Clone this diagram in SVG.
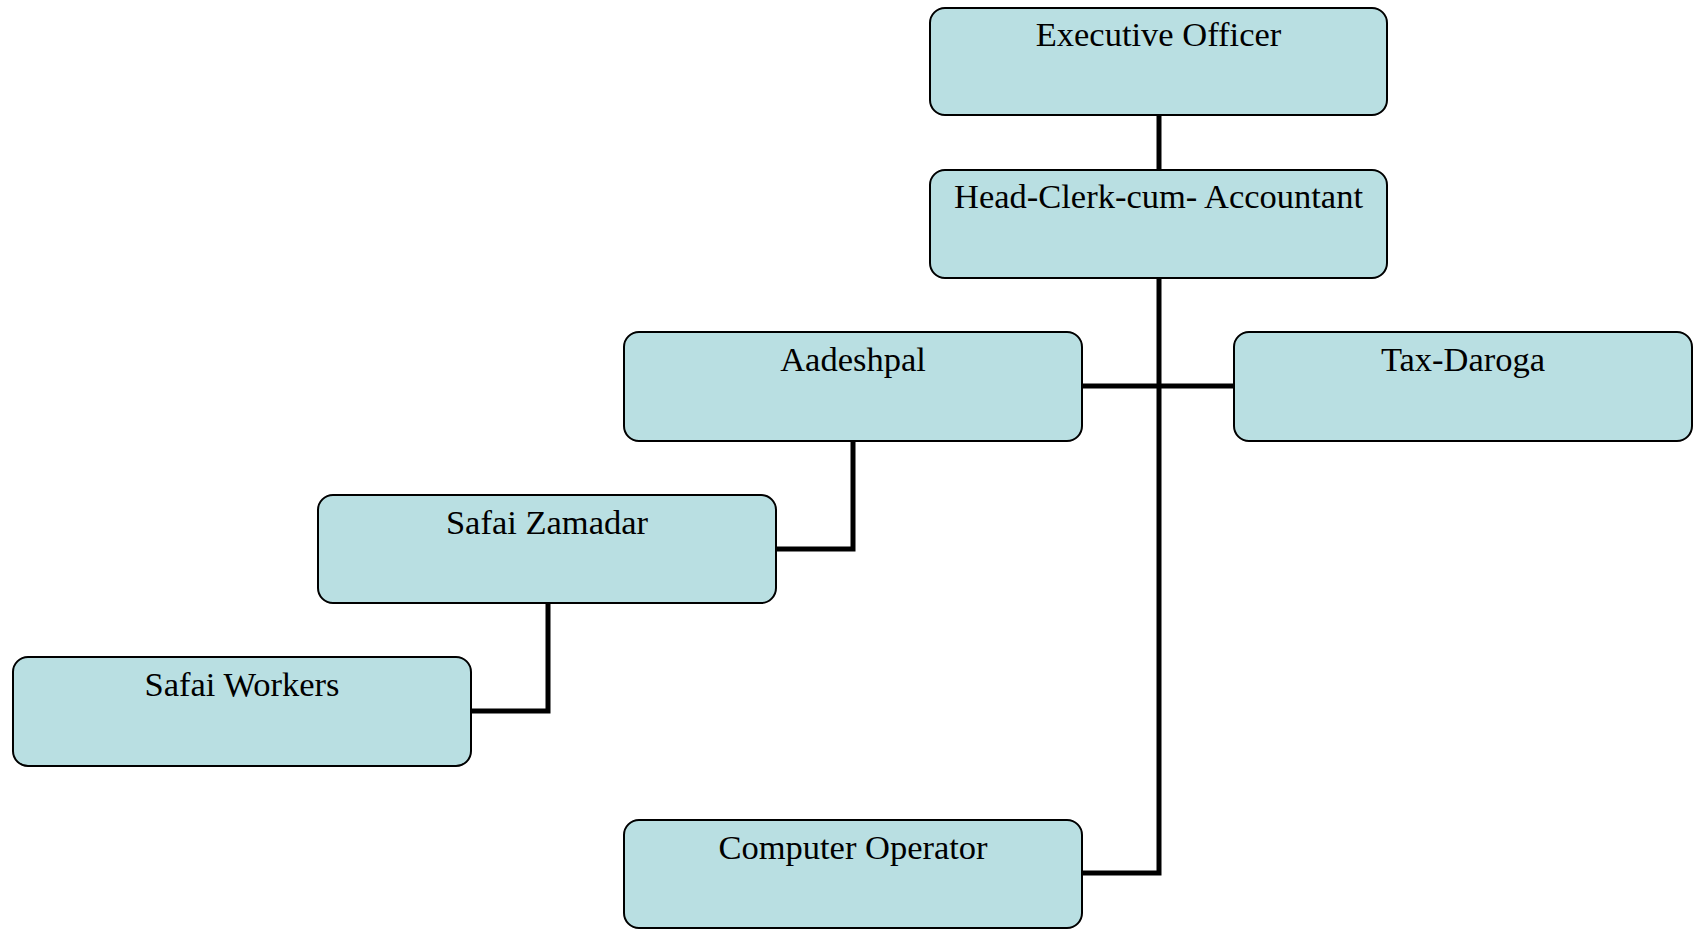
<svg xmlns="http://www.w3.org/2000/svg" width="1695" height="930" viewBox="0 0 1695 930">
  <style>
    .box { fill: #b9dfe2; stroke: #000; stroke-width: 2; }
    .lbl { font-family: "Liberation Serif", "Times New Roman", serif; font-size: 34.5px; fill: #000; text-anchor: middle; }
    .link { fill: none; stroke: #000; stroke-width: 5; stroke-linejoin: miter; }
  </style>
  <rect width="1695" height="930" fill="#fff"/>

  <!-- reporting lines -->
  <g id="connectors">
    <path class="link" d="M1159,115 V170"/>
    <path class="link" d="M1159,278 V873 H1082"/>
    <path class="link" d="M1082,386 H1234"/>
    <path class="link" d="M853,441 V549 H776"/>
    <path class="link" d="M548,603 V711 H471"/>
  </g>

  <g id="executive-officer">
    <rect class="box" x="930" y="8" width="457" height="107" rx="15"/>
    <text class="lbl" x="1158.5" y="46">Executive Officer</text>
  </g>
  <g id="head-clerk">
    <rect class="box" x="930" y="170" width="457" height="108" rx="15"/>
    <text class="lbl" x="1158.5" y="208">Head-Clerk-cum- Accountant</text>
  </g>
  <g id="aadeshpal">
    <rect class="box" x="624" y="332" width="458" height="109" rx="15"/>
    <text class="lbl" x="853" y="371">Aadeshpal</text>
  </g>
  <g id="tax-daroga">
    <rect class="box" x="1234" y="332" width="458" height="109" rx="15"/>
    <text class="lbl" x="1463" y="371">Tax-Daroga</text>
  </g>
  <g id="safai-zamadar">
    <rect class="box" x="318" y="495" width="458" height="108" rx="15"/>
    <text class="lbl" x="547" y="534">Safai Zamadar</text>
  </g>
  <g id="safai-workers">
    <rect class="box" x="13" y="657" width="458" height="109" rx="15"/>
    <text class="lbl" x="242" y="696">Safai Workers</text>
  </g>
  <g id="computer-operator">
    <rect class="box" x="624" y="820" width="458" height="108" rx="15"/>
    <text class="lbl" x="853" y="859">Computer Operator</text>
  </g>
</svg>
